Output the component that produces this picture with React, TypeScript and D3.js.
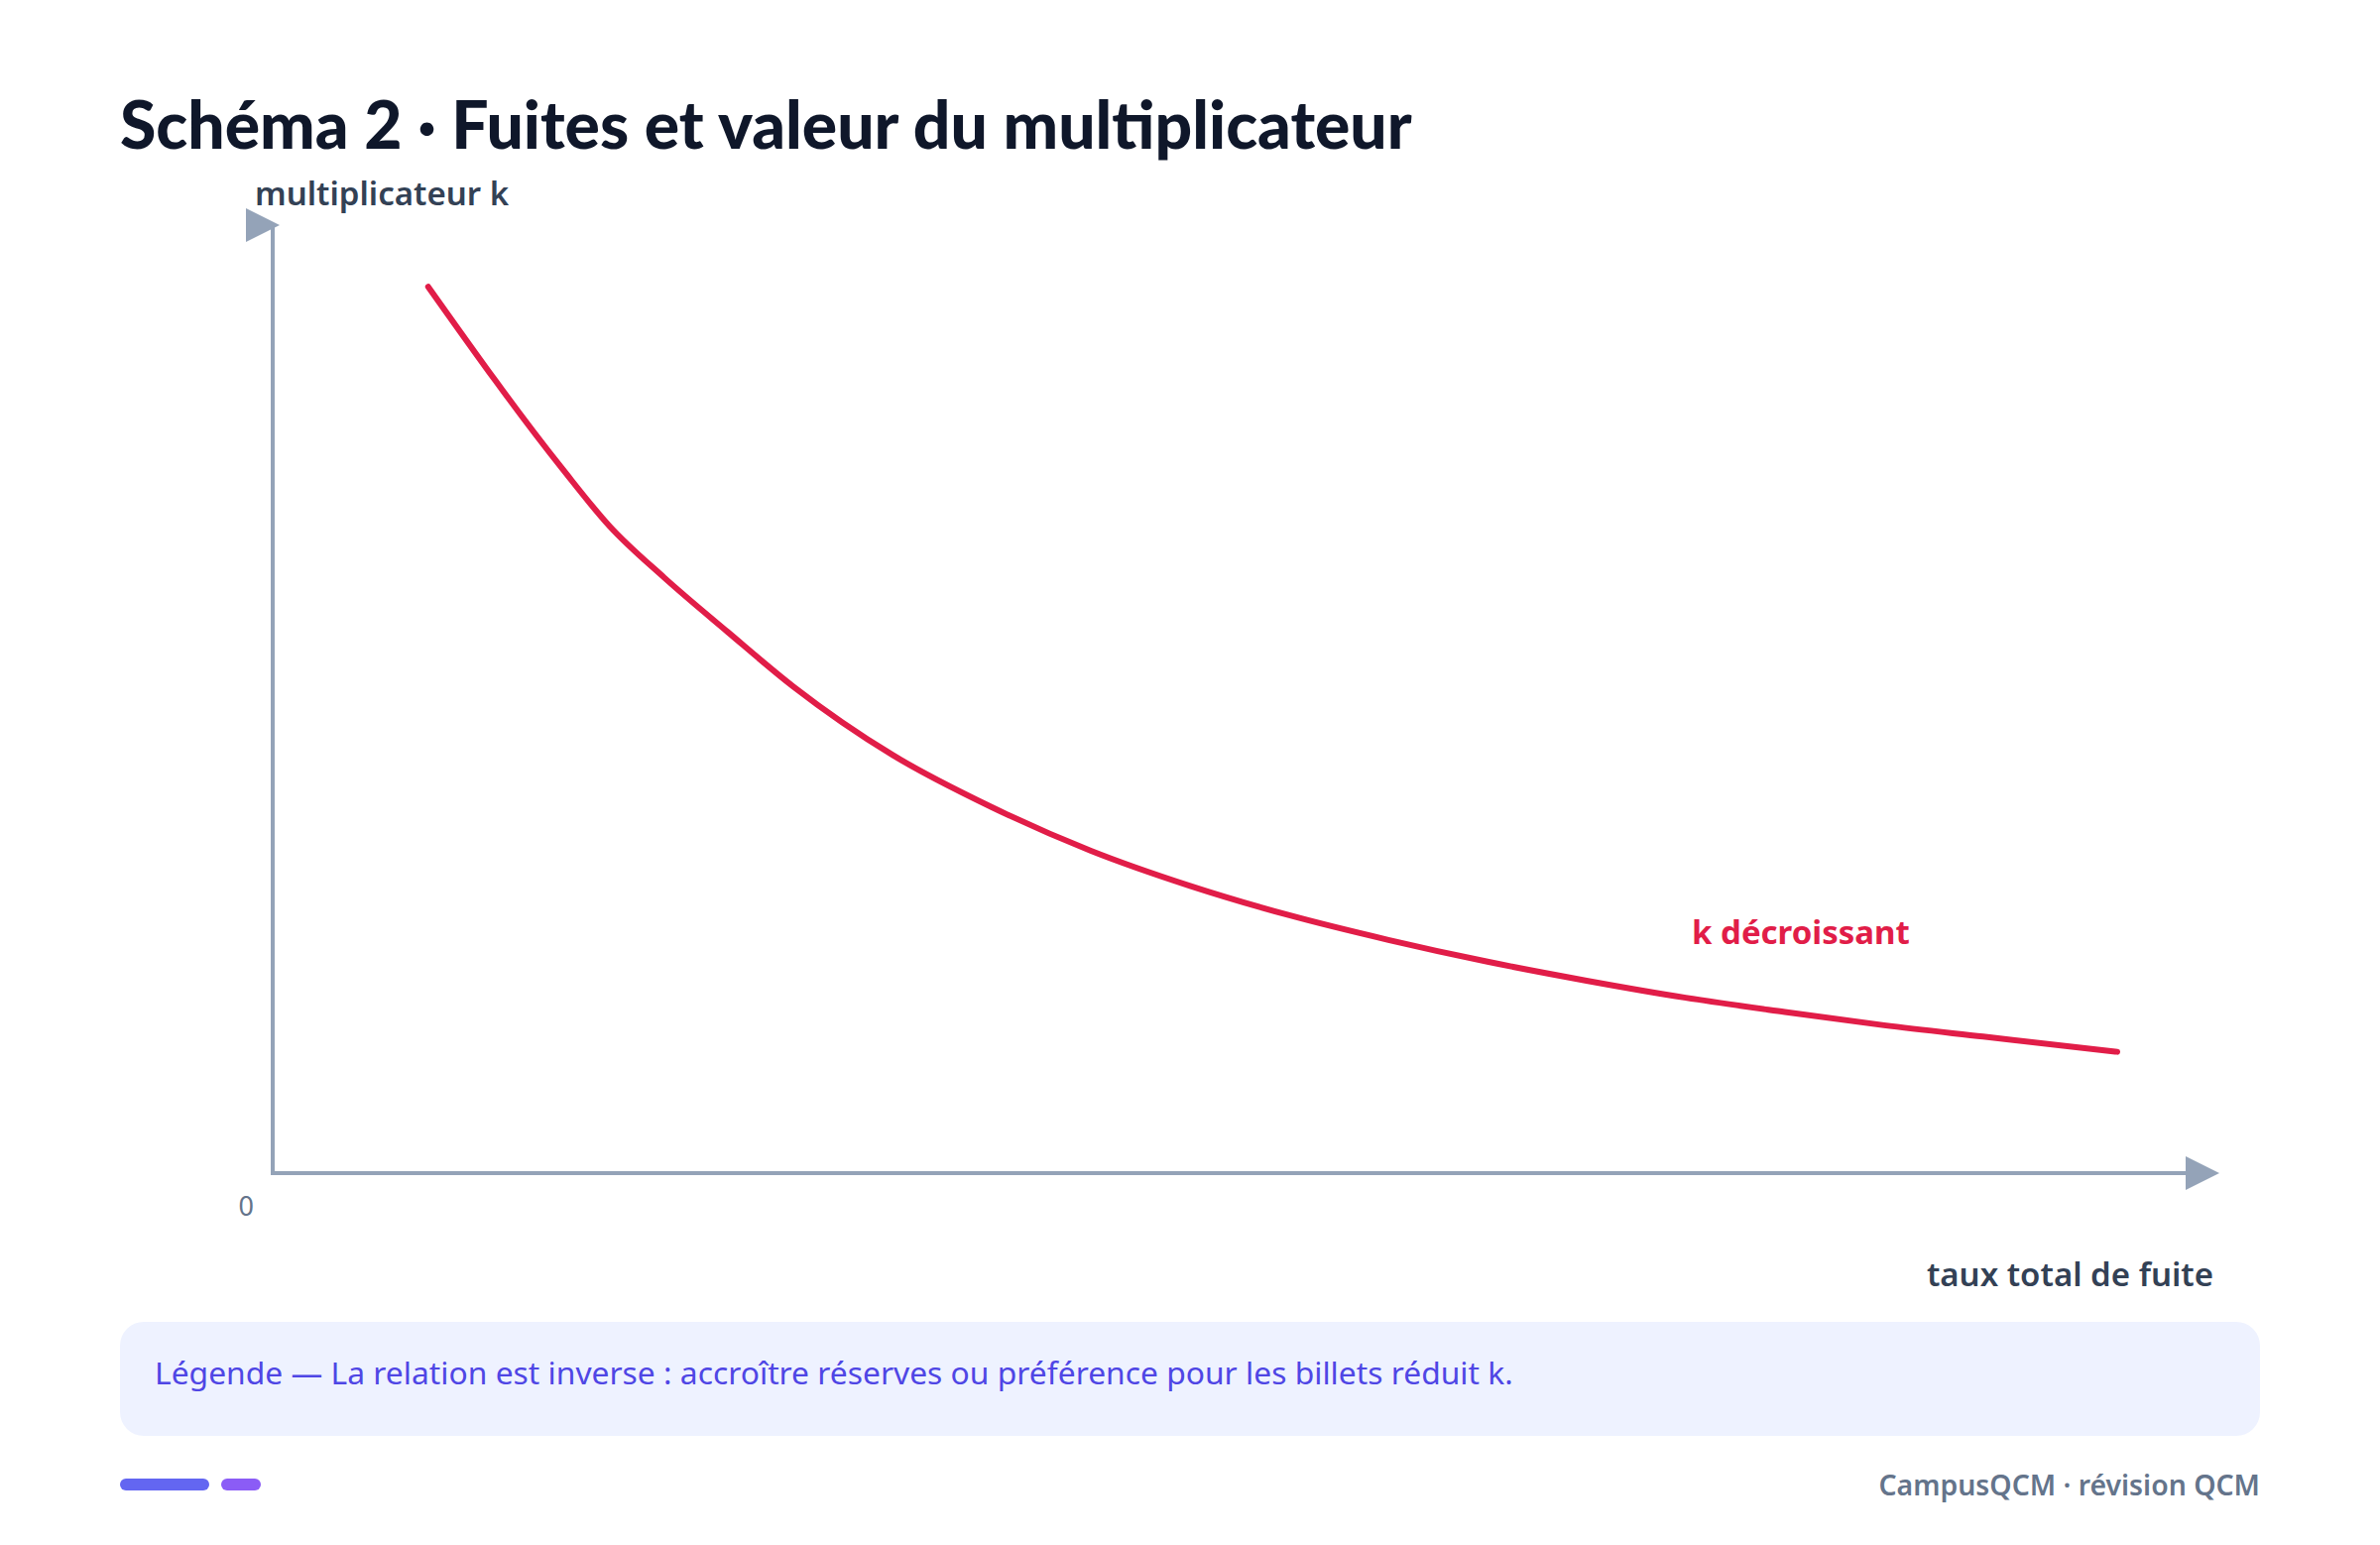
import React from "react";
import * as d3 from "d3";

// ---- data ----
const leakRate = [0.08, 0.149, 0.1735, 0.2015, 0.234, 0.268, 0.319, 0.37, 0.421, 0.472, 0.523, 0.574, 0.625, 0.676, 0.727, 0.778, 0.829, 0.88, 0.949];
const multiplier = [9.35, 7.43, 6.82, 6.28, 5.71, 5.13, 4.41, 3.86, 3.4, 3.03, 2.72, 2.46, 2.23, 2.03, 1.85, 1.7, 1.56, 1.44, 1.28];
const titleText = "Schéma 2 · Fuites et valeur du multiplicateur";
const yAxisLabel = "multiplicateur k";
const xAxisLabel = "taux total de fuite";
const originLabel = "0";
const curveLabel = "k décroissant";
const legendText = "Légende — La relation est inverse : accroître réserves ou préférence pour les billets réduit k.";
const footerText = "CampusQCM · révision QCM";

const W = 2400;
const H = 1558;
const BODY = "'Noto Sans', 'Open Sans', sans-serif";
const TITLE = "Lato, 'Noto Sans', sans-serif";
const AXIS = "#94a3b8";

export default function App() {
  const x = d3.scaleLinear().domain([0, 1]).range([275, 2235]);
  const y = d3.scaleLinear().domain([0, 10]).range([1183, 227]);
  const pts = leakRate.map((s, i) => [s, multiplier[i]] as [number, number]);
  const line = d3
    .line<[number, number]>()
    .x((d) => x(d[0]))
    .y((d) => y(d[1]))
    .curve(d3.curveMonotoneX);

  const x0 = x(0);
  const y0 = y(0);
  const xEnd = 2231;
  const yEnd = y(10);
  const arrow = (tx: number, ty: number) =>
    `${tx - 27},${ty - 17} ${tx + 7},${ty} ${tx - 27},${ty + 17}`;

  return (
    <svg
      width={W}
      height={H}
      style={{ display: "block", position: "absolute", left: 0, top: 0, background: "#ffffff" }}
    >
      <rect x={0} y={0} width={W} height={H} fill="#ffffff" />
      <text x={121} y={150} fontFamily={TITLE} fontWeight={900} fontSize={66} fill="#0f172a">
        {titleText}
      </text>

      {/* axes */}
      <line x1={x0} y1={y0 + 2} x2={x0} y2={yEnd} stroke={AXIS} strokeWidth={4} />
      <polygon points={arrow(x0, yEnd)} fill={AXIS} />
      <line x1={x0} y1={y0} x2={xEnd} y2={y0} stroke={AXIS} strokeWidth={4} />
      <polygon points={arrow(xEnd, y0)} fill={AXIS} />

      <text x={257} y={207} fontFamily={BODY} fontWeight={600} fontSize={33} fill="#334155">
        {yAxisLabel}
      </text>
      <text x={2232} y={1297} textAnchor="end" fontFamily={BODY} fontWeight={600} fontSize={33} fill="#334155">
        {xAxisLabel}
      </text>
      <text x={256} y={1226} textAnchor="end" fontFamily={BODY} fontSize={27} fill="#64748b">
        {originLabel}
      </text>

      {/* curve */}
      <path d={line(pts) || ""} fill="none" stroke="#e11d48" strokeWidth={6} strokeLinecap="round" strokeLinejoin="round" />
      <text x={1706} y={952} fontFamily={BODY} fontWeight={700} fontSize={33} fill="#e11d48">
        {curveLabel}
      </text>

      {/* legend box */}
      <rect x={121} y={1333} width={2158} height={115} rx={24} fill="#eef2ff" />
      <text x={156} y={1396} fontFamily={BODY} fontSize={31.8} fill="#4f46e5">
        {legendText}
      </text>

      {/* footer */}
      <rect x={121} y={1491} width={90} height={12} rx={6} fill="#6366f1" />
      <rect x={223} y={1491} width={40} height={12} rx={6} fill="#8b5cf6" />
      <text x={2279} y={1508} textAnchor="end" fontFamily={BODY} fontWeight={600} fontSize={28.4} fill="#64748b">
        {footerText}
      </text>
    </svg>
  );
}
